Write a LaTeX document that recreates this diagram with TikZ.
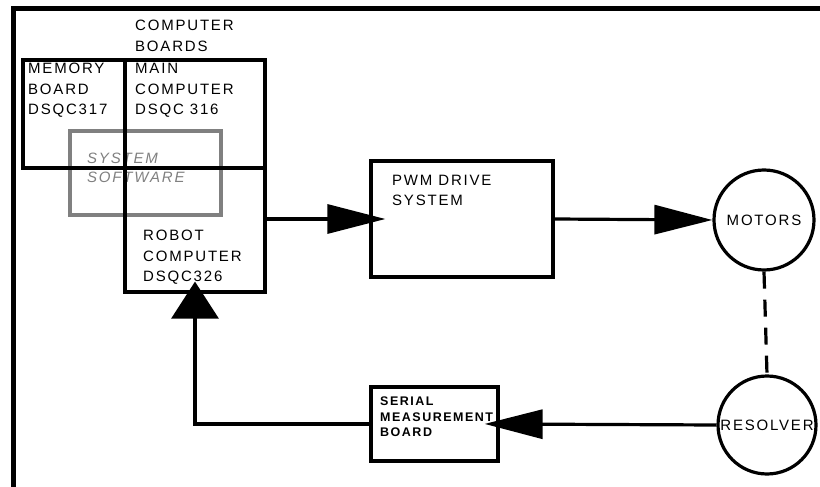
\documentclass[tikz,border=0pt]{standalone}
\usepackage{fontspec}
\setmainfont{Liberation Sans}[LetterSpace=12]
\usetikzlibrary{arrows.meta}

\begin{document}
\begin{tikzpicture}[x=1pt,y=-1pt,
  box/.style={draw,line width=3.2pt,rectangle,inner sep=0pt},
  ring/.style={draw,line width=3.2pt,circle,inner sep=0pt,font=\fontsize{15}{18}\selectfont},
  txt/.style={anchor=north west,inner sep=0pt,align=left,font=\fontsize{15}{20.5}\selectfont},
  flow/.style={line width=3.2pt,-{Triangle[length=58pt,width=29pt]}},
  rise/.style={line width=3.2pt,-{Triangle[length=37pt,width=47pt]}}]
  \useasboundingbox (0,0) rectangle (820,487);
  \draw[line width=5pt] (13,489) -- (13,9) -- (822,9);
  % system software sits behind the boards
  \node[box,draw=gray,minimum width=151pt,minimum height=84pt] (soft) at (145.5,173) {};
  \node[txt,text=gray,font=\fontsize{15}{19}\selectfont\itshape] (softtxt) at (87,153) {SYSTEM\\SOFTWARE};
  % computer boards
  \node[box,minimum width=102pt,minimum height=108pt] (mem) at (74,114) {};
  \node[box,minimum width=140pt,minimum height=108pt] (main) at (195,114) {};
  \node[box,minimum width=140pt,minimum height=124pt] (robot) at (195,230) {};
  \node[txt] (boards) at (135,20) {COMPUTER\\BOARDS};
  \node[txt] (memtxt) at (28,63) {MEMORY\\BOARD\\DSQC317};
  \node[txt] (maintxt) at (135,63) {MAIN\\COMPUTER\\DSQC 316};
  \node[txt] (robottxt) at (143,230) {ROBOT\\COMPUTER\\DSQC326};
  % drive chain
  \node[box,minimum width=182pt,minimum height=116pt] (pwm) at (462,219) {};
  \node[txt,font=\fontsize{15}{20}\selectfont] (pwmtxt) at (392,175) {PWM DRIVE\\SYSTEM};
  \node[ring,minimum size=100pt] (motors) at (764,220) {MOTORS};
  \node[ring,minimum size=98pt] (resolver) at (767,425) {RESOLVER};
  \node[box,minimum width=127pt,minimum height=74pt] (serial) at (434.5,424) {};
  \node[txt,font=\fontsize{12.5}{15.5}\selectfont\bfseries] (serialtxt) at (380,397) {SERIAL\\MEASUREMENT\\BOARD};
  % connections
  \draw[flow,shorten >=-16pt] (robot.east |- pwm.west) -- (pwm.west);
  \draw[flow] (pwm.east) -- (motors.west);
  \draw[line width=3.2pt,dash pattern=on 17pt off 11pt] (motors.south) -- (resolver.north);
  \draw[flow,shorten >=-15pt] (resolver.west) -- (serial.east);
  \draw[rise,shorten >=-12pt] (serial.west) -| (robot.south);
\end{tikzpicture}
\end{document}
